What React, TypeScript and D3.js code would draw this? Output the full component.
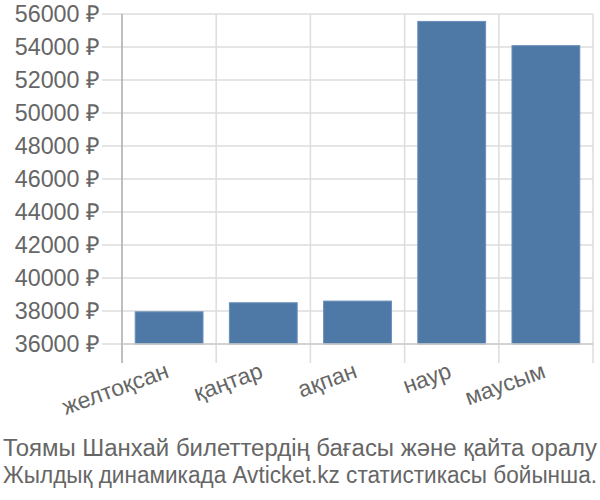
import React from "react";
import * as d3 from "d3";

const categories = ["желтоқсан", "қаңтар", "ақпан", "наур", "маусым"];
const values = [37950, 38500, 38600, 55550, 54080];
const yTicks = [36000, 38000, 40000, 42000, 44000, 46000, 48000, 50000, 52000, 54000, 56000];
const footerLines = [
  "Тоямы Шанхай билеттердің бағасы және қайта оралу",
  "Жылдық динамикада Avticket.kz статистикасы бойынша.",
];

const W = 600;
const H = 500;
const left = 122;
const right = 593;
const top = 14;
const bottom = 344;
const font = "'Liberation Sans', Arial, sans-serif";

export default function App() {
  const x = d3.scaleBand<string>().domain(categories).range([left, right]).padding(0);
  const y = d3.scaleLinear().domain([36000, 56000]).range([bottom, top]);
  const bw = x.bandwidth();
  const barPad = bw * 0.14;
  const boundaries = categories.map((c) => x(c) as number).concat([right]);
  const footerWidths = [594, 594];

  return (
    <svg width={W} height={H} style={{ position: "absolute", left: 0, top: 0 }}>
      <rect width={W} height={H} fill="#fff" />
      {yTicks.map((t) => (
        <line key={"h" + t} x1={102} x2={right} y1={y(t)} y2={y(t)} stroke="#dddddd" strokeWidth={1.5} />
      ))}
      {boundaries.slice(1).map((b, i) => (
        <line key={"v" + i} x1={b} x2={b} y1={top} y2={bottom + 19} stroke="#dddddd" strokeWidth={1.5} />
      ))}
      {categories.map((c, i) => (
        <rect
          key={c}
          x={(x(c) as number) + barPad}
          y={y(values[i])}
          width={bw - 2 * barPad}
          height={bottom - y(values[i])}
          fill="#4e79a7"
          stroke="#6a8fb8"
          strokeWidth={1}
        />
      ))}
      <line x1={left} x2={left} y1={top} y2={bottom + 19} stroke="#aaaaaa" strokeWidth={1.5} />
      <line x1={left} x2={right} y1={bottom} y2={bottom} stroke="#cccccc" strokeWidth={1.5} />
      {yTicks.map((t) => (
        <text
          key={"t" + t}
          x={100}
          y={y(t)}
          dy="0.35em"
          textAnchor="end"
          fontFamily={font}
          fontSize={23.3}
          fill="#666"
        >
          {t} ₽
        </text>
      ))}
      {categories.map((c) => {
        const cx = (x(c) as number) + bw / 2 + 1;
        const cy = 377;
        return (
          <text
            key={"x" + c}
            x={cx}
            y={cy}
            textAnchor="end"
            fontFamily={font}
            fontSize={23}
            fill="#666"
            transform={`rotate(-20 ${cx} ${cy})`}
          >
            {c}
          </text>
        );
      })}
      {footerLines.map((l, i) => {
        const by = 456 + i * 27;
        return (
          <g key={"f" + i} transform={`translate(0 ${by}) scale(1 1.1)`}>
            <text
              x={3}
              y={0}
              textAnchor="start"
              fontFamily={font}
              fontSize={21.4}
              fill="#666"
              textLength={footerWidths[i]}
              lengthAdjust="spacingAndGlyphs"
            >
              {l}
            </text>
          </g>
        );
      })}
    </svg>
  );
}
